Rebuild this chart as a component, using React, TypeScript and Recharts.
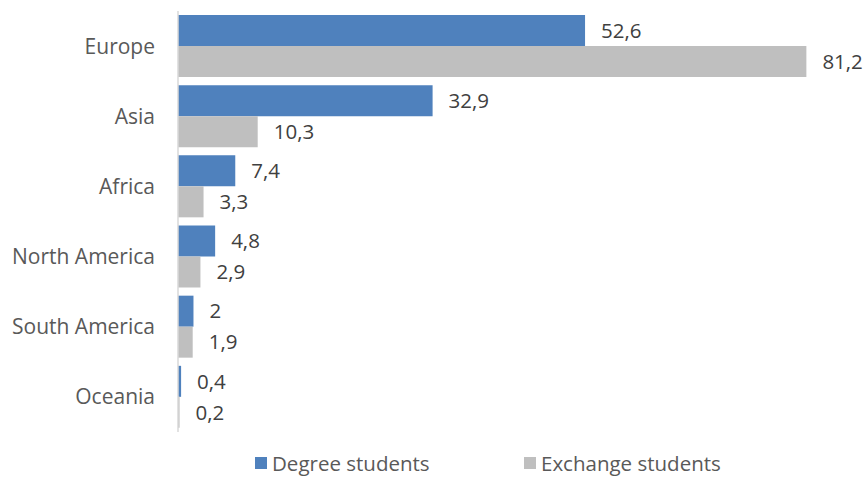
import React from 'react';
import { BarChart, Bar, XAxis, YAxis, Legend, LabelList } from 'recharts';

const regions = ['Europe', 'Asia', 'Africa', 'North America', 'South America', 'Oceania'];
const degreeStudents = [52.6, 32.9, 7.4, 4.8, 2, 0.4];
const exchangeStudents = [81.2, 10.3, 3.3, 2.9, 1.9, 0.2];

const BLUE = '#4F81BD';
const GRAY = '#BFBFBF';
const FONT = '"Open Sans", sans-serif';

const chartData = regions.map((name, i) => ({
  name,
  degree: degreeStudents[i],
  exchange: exchangeStudents[i]
}));

const fmt = (v: any) => String(v).replace('.', ',');

const LegendContent = () => {
  const items = [
    { label: 'Degree students', color: BLUE, left: 255 },
    { label: 'Exchange students', color: GRAY, left: 524 }
  ];
  return (
    <div style={{ position: 'relative', width: 867, height: 46 }}>
      {items.map(it => (
        <div
          key={it.label}
          style={{
            position: 'absolute',
            left: it.left,
            top: 20,
            display: 'flex',
            alignItems: 'center',
            fontFamily: FONT,
            fontSize: 20.5,
            color: '#595959',
            lineHeight: '22px',
            whiteSpace: 'nowrap'
          }}
        >
          <span style={{ display: 'inline-block', width: 12, height: 12, background: it.color, marginRight: 5 }} />
          {it.label}
        </div>
      ))}
    </div>
  );
};

export default function App() {
  return (
    <div style={{ position: 'absolute', left: 0, top: 0, background: '#fff' }}>
      <BarChart
        width={867}
        height={478}
        data={chartData}
        layout="vertical"
        margin={{ top: 11, right: 8, left: 0, bottom: 0 }}
        barGap={0}
        barSize={31}
      >
        <XAxis type="number" domain={[0, 88]} hide />
        <YAxis
          type="category"
          dataKey="name"
          width={178}
          tickLine={false}
          tickSize={0}
          tickMargin={23}
          axisLine={{ stroke: '#D9D9D9', strokeWidth: 1.5 }}
          tick={{ fontSize: 21, fill: '#595959', fontFamily: FONT }}
        />
        <Legend
          verticalAlign="bottom"
          content={<LegendContent />}
          wrapperStyle={{ left: 0, bottom: 0, width: 867, height: 46 }}
        />
        <Bar dataKey="degree" name="Degree students" fill={BLUE} isAnimationActive={false}>
          <LabelList
            dataKey="degree"
            position="right"
            offset={16}
            formatter={fmt}
            style={{ fontSize: 20.5, fill: '#404040', fontFamily: FONT }}
          />
        </Bar>
        <Bar dataKey="exchange" name="Exchange students" fill={GRAY} isAnimationActive={false}>
          <LabelList
            dataKey="exchange"
            position="right"
            offset={16}
            formatter={fmt}
            style={{ fontSize: 20.5, fill: '#404040', fontFamily: FONT }}
          />
        </Bar>
      </BarChart>
    </div>
  );
}
